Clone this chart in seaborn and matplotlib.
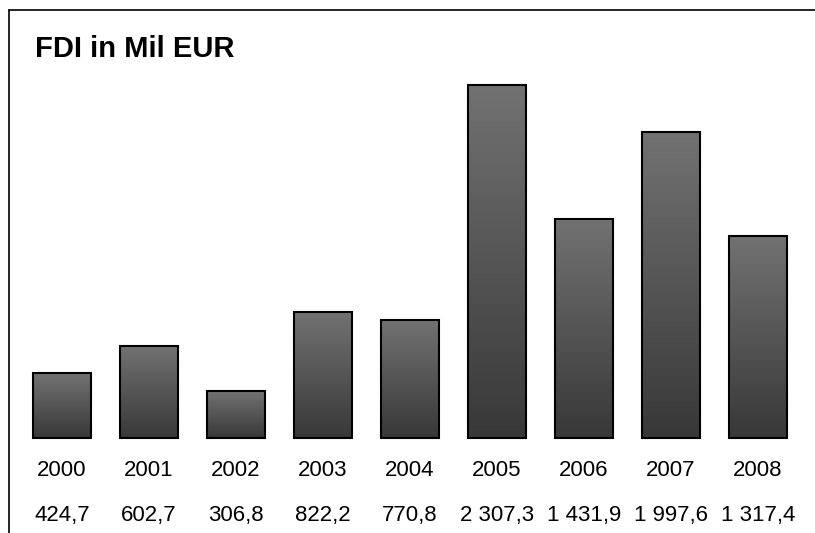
import numpy as np
import pandas as pd
import matplotlib
matplotlib.use("Agg")
import matplotlib.pyplot as plt
import seaborn as sns
from matplotlib.colors import LinearSegmentedColormap
from matplotlib.lines import Line2D

years = ["2000", "2001", "2002", "2003", "2004", "2005", "2006", "2007", "2008"]
values = [424.7, 602.7, 306.8, 822.2, 770.8, 2307.3, 1431.9, 1997.6, 1317.4]
value_labels = ["424,7", "602,7", "306,8", "822,2", "770,8", "2 307,3", "1 431,9", "1 997,6", "1 317,4"]
title = "FDI in Mil EUR"

sns.set_theme(style="white")
plt.rcParams['font.family'] = ['Liberation Sans', 'DejaVu Sans']

df = pd.DataFrame({"year": years, "value": values})

fig = plt.figure(figsize=(8.15, 5.33), dpi=100)
ax = fig.add_axes([18.5 / 815, 1 - 438 / 533, 783 / 815, 353 / 533 * 1.0])
sns.barplot(data=df, x="year", y="value", ax=ax, width=58 / 87,
            color="#555555", edgecolor="black", linewidth=1.5, saturation=1)
ax.set_xlim(-0.5, len(years) - 0.5)
ax.set_ylim(0, max(values))
ax.set_axis_off()

cmap = LinearSegmentedColormap.from_list("g", ["#383838", "#555555", "#727272"])
grad = np.linspace(0, 1, 256).reshape(-1, 1)
for p in ax.patches:
    x0, y0 = p.get_x(), p.get_y()
    w, h = p.get_width(), p.get_height()
    im = ax.imshow(grad, cmap=cmap, aspect="auto", origin="lower",
                   extent=[x0, x0 + w, y0, y0 + h], zorder=p.get_zorder() - 0.1,
                   interpolation="bilinear")
    im.set_clip_path(p)
    p.set_facecolor("none")
    p.set_clip_on(False)
ax.set_xlim(-0.5, len(years) - 0.5)
ax.set_ylim(0, max(values))

for i, (yr, vl) in enumerate(zip(years, value_labels)):
    xf = (18.5 + 87 * (i + 0.5)) / 815
    fig.text(xf, 1 - 470 / 533, yr, ha="center", va="center", fontsize=16, color="black")
    fig.text(xf, 1 - 515 / 533, vl, ha="center", va="center", fontsize=16, color="black")

fig.text(35 / 815, 1 - 57 / 533, title, ha="left", va="baseline",
         fontsize=21, fontweight="bold", color="black")

fig.add_artist(Line2D([8.5 / 815, 8.5 / 815], [0, 1 - 9.5 / 533], transform=fig.transFigure,
                      color="black", linewidth=1.2))
fig.add_artist(Line2D([8.5 / 815, 1], [1 - 9.5 / 533, 1 - 9.5 / 533], transform=fig.transFigure,
                      color="black", linewidth=1.2))

fig.savefig("out.png", dpi=100)
